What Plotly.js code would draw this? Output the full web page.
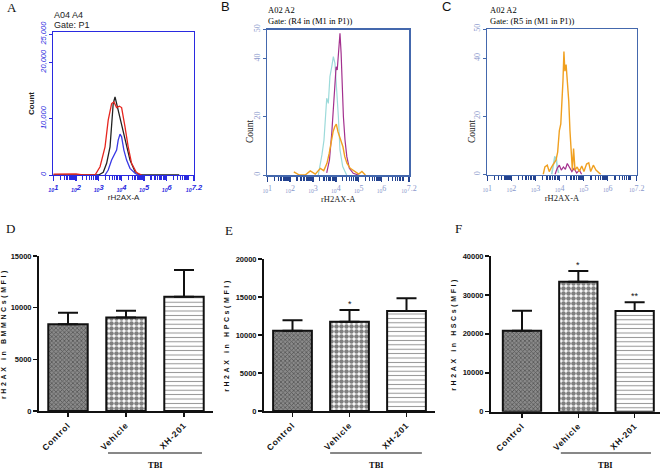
<!DOCTYPE html>
<html><head><meta charset="utf-8">
<script src="https://cdn.plot.ly/plotly-3.0.1.min.js"></script>
<style>html,body{margin:0;padding:0;background:#fff}#chart{width:666px;height:471px}</style>
</head><body><div id="chart"></div>
<script>
// ---------- Panel A (x = log10 of rH2AX-A, y = count) ----------
const aBlackX = [1.0, 2.0, 3.0, 3.2, 3.35, 3.5, 3.57, 3.64, 3.72, 3.82, 3.94, 4.08, 4.23, 4.38, 4.6, 4.82, 5.5, 6.55];
const aBlackY = [0, 0, 0, 500, 2070, 5000, 9730, 12690, 13860, 12090, 10320, 7960, 5010, 2650, 590, 0, 0, 0];
const aRedX = [1.0, 1.3, 1.6, 2.0, 2.3, 2.84, 3.06, 3.28, 3.42, 3.57, 3.67, 3.79, 3.91, 4.01, 4.16, 4.30, 4.45, 4.67, 4.89];
const aRedY = [150, 200, 150, 200, 0, 0, 1470, 5000, 9730, 12690, 12970, 11980, 12210, 11980, 8550, 5000, 2070, 410, 0];
const aBlueX = [3.28, 3.42, 3.57, 3.67, 3.79, 3.86, 3.94, 4.01, 4.11, 4.23, 4.38, 4.60, 4.74];
const aBlueY = [0, 880, 2650, 3540, 4420, 6190, 7260, 6780, 4420, 2650, 1180, 300, 0];

// ---------- Panel B ----------
const bCyanX = [3.23, 3.34, 3.39, 3.48, 3.54, 3.60, 3.67, 3.74, 3.82, 3.89, 3.96, 4.04, 4.11, 4.18, 4.30, 4.47];
const bCyanY = [0, 4, 6.9, 12, 18.9, 26.4, 24.6, 33.8, 37.2, 40.7, 38.4, 30.3, 20, 8.6, 2.9, 0];
const bPurpleX = [3.60, 3.72, 3.82, 3.89, 3.95, 4.01, 4.06, 4.12, 4.18, 4.23, 4.27, 4.33, 4.40, 4.48, 4.59, 4.76, 4.98];
const bPurpleY = [0.7, 5.2, 14.3, 23.5, 32.6, 37.2, 36.1, 43, 48.7, 41.8, 30.3, 20, 12, 6.3, 2.3, 0.6, 0];
const bOrangeX = [2.16, 2.4, 2.66, 2.88, 3.10, 3.32, 3.47, 3.61, 3.71, 3.80, 3.88, 3.95, 4.02, 4.09, 4.17, 4.24, 4.31, 4.39, 4.49, 4.63, 4.78, 5.00, 5.14, 5.29];
const bOrangeY = [1.1, 0, 0, 1.4, 0.3, 2.3, 1.5, 4, 7.5, 12, 14.9, 16.6, 17.5, 14.9, 13.2, 11.4, 9.7, 6.3, 4, 2.3, 1.5, 0.3, 1.2, 0];

// ---------- Panel C ----------
const cCyanX = [3.67, 3.74, 3.80, 3.86, 3.90, 3.96];
const cCyanY = [0, 3.8, 6, 5.8, 2.6, 0.5];
const cPurpleX = [3.81, 3.90, 3.99, 4.07, 4.16, 4.24, 4.32, 4.41, 4.51, 4.60, 4.71, 4.82, 4.92];
const cPurpleY = [0, 2.1, 3.2, 1.5, 2.6, 1.8, 3.8, 2.6, 1, 2.1, 0.5, 1.5, 0];
const cOrangeX = [3.32, 3.39, 3.49, 3.57, 3.67, 3.77, 3.85, 3.92, 3.99, 4.05, 4.10, 4.14, 4.18, 4.22, 4.27, 4.32, 4.38, 4.43, 4.49, 4.53, 4.58, 4.64, 4.73, 4.82, 4.92, 5.01, 5.12, 5.21, 5.29, 5.40, 5.51, 5.62, 5.71];
const cOrangeY = [0, 2.6, 3.2, 1, 2.6, 3.8, 4.9, 7.7, 15.1, 17.4, 24.2, 32.1, 42.3, 35.5, 37.8, 32.7, 25.3, 15.1, 4.9, 1.5, 8.9, 1.5, 2.6, 1, 2.9, 1, 3.6, 4, 1, 3.2, 1.5, 0.5, 0];

// ---------- Flow axis ticks ----------
const flowTickVals = [1, 2, 3, 4, 5, 6, 7.2];
const flowTickText = ['<sub>10</sub>1', '<sub>10</sub>2', '<sub>10</sub>3', '<sub>10</sub>4', '<sub>10</sub>5', '<sub>10</sub>6', '<sub>10</sub>7.2'];
const aYTickVals = [0, 10000, 20000, 25000];
const aYTickText = ['0', '10,000', '20,000', '25,000'];
const bcYTickVals = [0, 20, 40, 50];
const bcYTickText = ['0', '20', '40', '50'];

// ---------- Bar panels ----------
const groups = ['Control', 'Vehicle', 'XH-201'];
const dMeans = [8400, 9050, 11050];
const dErr = [1100, 650, 2600];
const eMeans = [10550, 11750, 13150];
const eErr = [1400, 1550, 1700];
const fMeans = [20800, 33400, 25900];
const fErr = [5150, 2750, 2200];
const dTicks = [0, 5000, 10000, 15000];
const dTickText = ['0', '5000', '10000', '15000'];
const eTicks = [0, 5000, 10000, 15000, 20000];
const eTickText = ['0', '5000', '10000', '15000', '20000'];
const fTicks = [0, 10000, 20000, 30000, 40000];
const fTickText = ['0', '10000', '20000', '30000', '40000'];

// minor log ticks
const flowMinor = [];
for (let n = 1; n <= 7; n++) {
  for (let k = 2; k <= 9; k++) {
    const v = n + Math.log10(k);
    if (v < 7.2) flowMinor.push(v);
  }
}

const blueA = '#2a2ae0';
const frameB = '#4468ad';
const tickLblB = '#8a98cc';

function line(x, y, color, ax, w) {
  return {type: 'scatter', mode: 'lines', x: x, y: y, xaxis: 'x' + ax, yaxis: 'y' + ax,
    line: {color: color, width: w || 1.2}, showlegend: false, hoverinfo: 'skip'};
}
function bar(means, errs, ax) {
  return {type: 'bar', x: groups, y: means, xaxis: 'x' + ax, yaxis: 'y' + ax, width: 0.68,
    showlegend: false,
    marker: {color: '#ffffff', line: {color: '#111', width: 2},
      pattern: {shape: ['x', '.', '-'], fgcolor: ['#222', '#000', '#222'], bgcolor: ['#8a8a8a', '#fff', '#fff'],
        size: [3, 5, 4.4], solidity: [0.45, 0.65, 0.22], fillmode: 'overlay'}},
    error_y: {type: 'data', symmetric: false, array: errs, arrayminus: errs.map(() => 0),
      color: '#111', thickness: 2, width: 10}};
}

const traces = [
  line(aBlackX, aBlackY, '#222', '', 1.3),
  line(aRedX, aRedY, '#e6261f', '', 1.3),
  line(aBlueX, aBlueY, '#3a3ae6', '', 1.3),
  line(bCyanX, bCyanY, '#9cdada', 2),
  line(bPurpleX, bPurpleY, '#a3308e', 2),
  line(bOrangeX, bOrangeY, '#f0a020', 2, 1.4),
  line(cCyanX, cCyanY, '#9cdada', 3, 1.6),
  line(cPurpleX, cPurpleY, '#a3308e', 3),
  line(cOrangeX, cOrangeY, '#f0a020', 3, 1.4),
  bar(dMeans, dErr, 4),
  bar(eMeans, eErr, 5),
  bar(fMeans, fErr, 6)
];

function flowX(domain, anchor, isA) {
  const col = isA ? blueA : frameB;
  const tcol = isA ? blueA : '#23428f';
  return {domain: domain, anchor: anchor, range: [1, 7.2], tickmode: 'array', tickvals: flowTickVals, ticktext: flowTickText,
    ticks: 'outside', ticklen: 5, tickcolor: tcol, tickwidth: 1.4,
    showline: true, linecolor: col, linewidth: isA ? 1.3 : 1.5, mirror: true, zeroline: false, showgrid: false,
    tickfont: isA ? {family: 'Liberation Sans', size: 7.5, color: blueA, style: 'italic', weight: 'bold'}
                  : {family: 'Liberation Serif', size: 8, color: tickLblB},
    minor: {tickmode: 'array', tickvals: flowMinor, ticks: 'outside', ticklen: 4, tickcolor: tcol, tickwidth: 1.2},
    title: {text: 'rH2AX-A', standoff: 2, font: isA ? {family: 'Liberation Sans', size: 8, color: '#222'} : {family: 'Liberation Serif', size: 8.5, color: '#222'}}};
}
function flowY(domain, anchor, isA) {
  const col = isA ? blueA : frameB;
  const ax = {domain: domain, anchor: anchor, range: isA ? [0, 25400] : [0, 50], tickmode: 'array',
    tickvals: isA ? aYTickVals : bcYTickVals, ticktext: isA ? aYTickText : bcYTickText,
    tickangle: -90, ticks: 'outside', ticklen: 3, tickcolor: col,
    showline: true, linecolor: col, linewidth: isA ? 1.3 : 1.5, mirror: true, zeroline: false, showgrid: false,
    tickfont: isA ? {family: 'Liberation Sans', size: 7.5, color: blueA, style: 'italic'} : {family: 'Liberation Serif', size: 8, color: tickLblB}};
  if (isA) ax.title = {text: 'Count', standoff: 3, font: {family: 'Liberation Sans', size: 8, color: '#222', weight: 'bold'}};
  return ax;
}
function barX(domain, anchor, range) {
  return {domain: domain, anchor: anchor, type: 'category', range: range, showline: true, linecolor: '#111', linewidth: 2,
    ticks: 'outside', ticklen: 4, tickwidth: 1.5, tickcolor: '#111', tickangle: -45, zeroline: false, showgrid: false,
    tickfont: {family: 'Liberation Sans', size: 8.5, weight: 'bold', color: '#111'}};
}
function barY(domain, anchor, range, ticks, text, title) {
  return {domain: domain, anchor: anchor, range: range, tickmode: 'array', tickvals: ticks, ticktext: text,
    showline: true, linecolor: '#111', linewidth: 2,
    ticks: 'outside', ticklen: 4, tickwidth: 1.5, tickcolor: '#111', zeroline: false, showgrid: false,
    tickfont: {family: 'Liberation Sans', size: 7.5, weight: 'bold', color: '#111'},
    title: {text: title, standoff: 5, font: {family: 'Liberation Sans', size: 7, weight: 'bold', color: '#111'}}};
}

const W = 666, H = 471;
function px(x) { return x / W; }
function py(y) { return 1 - y / H; }
function note(text, x, y, font, xanchor) {
  return {text: text, xref: 'paper', yref: 'paper', x: px(x), y: py(y), xanchor: xanchor || 'left', yanchor: 'middle',
    showarrow: false, font: font};
}
const sans9 = {family: 'Liberation Sans', size: 9, color: '#222'};
const serif85 = {family: 'Liberation Serif', size: 8.5, color: '#000000'};
const letterSerif = {family: 'Liberation Serif', size: 13, color: '#111'};
const letterSans = {family: 'Liberation Sans', size: 13, color: '#111'};
const countSerif = {family: 'Liberation Serif', size: 9.5, color: '#1a1a1a'};

const annotations = [
  note('A', 12, 8, letterSerif, 'center'),
  note('B', 225, 7, letterSans, 'center'),
  note('C', 446, 7, letterSans, 'center'),
  note('D', 10, 228, letterSerif, 'center'),
  note('E', 229, 230, letterSerif, 'center'),
  note('F', 459, 228, letterSerif, 'center'),
  note('A04 A4', 52, 15, sans9),
  note('Gate: P1', 52, 25, sans9),
  note('A02 A2', 266, 10, serif85),
  note('Gate: (R4 in (M1 in P1))', 266, 21, serif85),
  note('A02 A2', 488, 10, serif85),
  note('Gate: (R5 in (M1 in P1))', 488, 21, serif85),
  Object.assign(note('Count', 250, 131, countSerif, 'center'), {textangle: -90}),
  Object.assign(note('Count', 472, 131, countSerif, 'center'), {textangle: -90}),
  {text: '*', xref: 'x5', yref: 'y5', x: 'Vehicle', y: eMeans[1] + eErr[1], yshift: 6, showarrow: false,
   font: {family: 'Liberation Sans', size: 9, color: '#111'}},
  {text: '*', xref: 'x6', yref: 'y6', x: 'Vehicle', y: fMeans[1] + fErr[1], yshift: 6, showarrow: false,
   font: {family: 'Liberation Sans', size: 9, color: '#111'}},
  {text: '**', xref: 'x6', yref: 'y6', x: 'XH-201', y: fMeans[2] + fErr[2], yshift: 6, showarrow: false,
   font: {family: 'Liberation Sans', size: 9, color: '#111'}}
];
const shapes = [];
[['x4', 0.69, 2.31], ['x5', 0.66, 2.27], ['x6', 0.69, 2.29]].forEach(function (s) {
  shapes.push({type: 'line', xref: s[0], yref: 'paper', x0: s[1], x1: s[2], y0: py(453), y1: py(453), line: {color: '#111', width: 1}});
  annotations.push({text: 'TBI', xref: s[0], yref: 'paper', x: (s[1] + s[2]) / 2, y: py(465), showarrow: false,
    xanchor: 'center', yanchor: 'middle', font: {family: 'Liberation Serif', size: 8.5, weight: 'bold', color: '#111'}});
});

const layout = {
  width: W, height: H, margin: {l: 0, r: 0, t: 0, b: 0}, paper_bgcolor: '#fff', plot_bgcolor: '#fff', showlegend: false,
  xaxis: flowX([px(53.3), px(194)], 'y', true),
  yaxis: flowY([py(175), py(32)], 'x', true),
  xaxis2: flowX([px(267.3), px(409)], 'y2', false),
  yaxis2: flowY([py(175), py(29.5)], 'x2', false),
  xaxis3: flowX([px(487.3), px(636.7)], 'y3', false),
  yaxis3: flowY([py(174.5), py(29)], 'x3', false),
  xaxis4: barX([px(39), px(213)], 'y4', [-0.5, 2.5]),
  yaxis4: barY([py(411), py(256)], 'x4', [0, 15000], dTicks, dTickText, 'rH2AX in BMMNCs(MFI)'),
  xaxis5: barX([px(264), px(435)], 'y5', [-0.5, 2.5]),
  yaxis5: barY([py(411), py(259)], 'x5', [0, 20000], eTicks, eTickText, 'rH2AX in HPCs(MFI)'),
  xaxis6: barX([px(491), px(660)], 'y6', [-0.55, 2.45]),
  yaxis6: barY([py(411.7), py(256)], 'x6', [0, 40000], fTicks, fTickText, 'rH2AX in HSCs(MFI)'),
  annotations: annotations, shapes: shapes
};

Plotly.newPlot('chart', traces, layout, {staticPlot: true}).then(function () {
  document.querySelectorAll('.y4title, .y5title, .y6title').forEach(function (t) { t.style.letterSpacing = '2.6px'; });
  document.querySelectorAll('.xaxislayer-above .x4tick text, .xaxislayer-above .x5tick text, .xaxislayer-above .x6tick text').forEach(function (t) { t.style.letterSpacing = '0.8px'; });
});
</script></body></html>
